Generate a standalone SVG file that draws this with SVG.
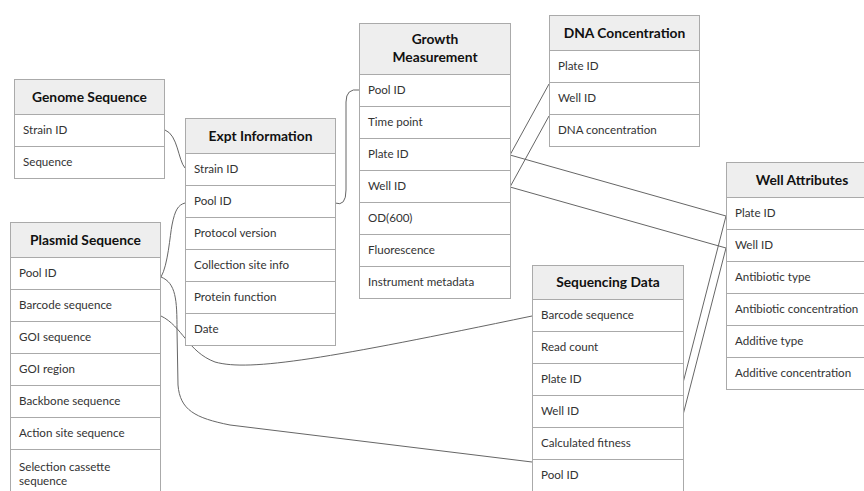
<svg xmlns="http://www.w3.org/2000/svg" width="864" height="491" viewBox="0 0 864 491">
<style>
.box{fill:#fff;stroke:#aaa;stroke-width:1}
.hd{fill:#eeeeee;stroke:#aaa;stroke-width:1}
.sep{stroke:#aaa;stroke-width:1}
.t{font-family:Lato,"Liberation Sans",sans-serif;font-size:11.6px;fill:#333}
.h{font-family:Lato,"Liberation Sans",sans-serif;font-size:13.8px;font-weight:bold;fill:#111;text-anchor:middle}
.c{fill:none;stroke:#666;stroke-width:1}
</style>
<rect width="864" height="491" fill="#fff"/>
<g id="connectors">
<path class="c" d="M165,130 C178,135 178,160 185,168"/>
<path class="c" d="M335,203 Q346,207 346,190 L346,102 Q346,88 359,90"/>
<path class="c" d="M161,277 C168,265 170,235 172,225 C175,210 178,205 185,203"/>
<path class="c" d="M161,277 C176,283 177,300 177,330 L178,385 C180,410 195,418 230,425 L532,462"/>
<path class="c" d="M161,316 C182,326 188,352 215,362 C250,372 330,358 532,316"/>
<path class="c" d="M510,155 L549,84"/>
<path class="c" d="M510,187 L549,116"/>
<path class="c" d="M510,155 L726,216"/>
<path class="c" d="M510,187 L726,248"/>
<path class="c" d="M683,383 L726,216"/>
<path class="c" d="M683,415 L726,248"/>
</g>
<g id="genome-sequence">
<rect class="box" x="14.5" y="79.5" width="150" height="99"/>
<rect class="hd" x="14.5" y="79.5" width="150" height="35"/>
<line class="sep" x1="14.5" y1="146.5" x2="164.5" y2="146.5"/>
<text class="h" x="89.5" y="102">Genome Sequence</text>
<text class="t" x="23" y="134">Strain ID</text>
<text class="t" x="23" y="166">Sequence</text>
</g>
<g id="expt-information">
<rect class="box" x="185.5" y="118.5" width="150" height="227"/>
<rect class="hd" x="185.5" y="118.5" width="150" height="35"/>
<line class="sep" x1="185.5" y1="185.5" x2="335.5" y2="185.5"/>
<line class="sep" x1="185.5" y1="217.5" x2="335.5" y2="217.5"/>
<line class="sep" x1="185.5" y1="249.5" x2="335.5" y2="249.5"/>
<line class="sep" x1="185.5" y1="281.5" x2="335.5" y2="281.5"/>
<line class="sep" x1="185.5" y1="313.5" x2="335.5" y2="313.5"/>
<text class="h" x="260.5" y="141">Expt Information</text>
<text class="t" x="194" y="173">Strain ID</text>
<text class="t" x="194" y="205">Pool ID</text>
<text class="t" x="194" y="237">Protocol version</text>
<text class="t" x="194" y="269">Collection site info</text>
<text class="t" x="194" y="301">Protein function</text>
<text class="t" x="194" y="333">Date</text>
</g>
<g id="plasmid-sequence">
<rect class="box" x="10.5" y="222.5" width="150" height="280"/>
<rect class="hd" x="10.5" y="222.5" width="150" height="35"/>
<line class="sep" x1="10.5" y1="289.5" x2="160.5" y2="289.5"/>
<line class="sep" x1="10.5" y1="321.5" x2="160.5" y2="321.5"/>
<line class="sep" x1="10.5" y1="353.5" x2="160.5" y2="353.5"/>
<line class="sep" x1="10.5" y1="385.5" x2="160.5" y2="385.5"/>
<line class="sep" x1="10.5" y1="417.5" x2="160.5" y2="417.5"/>
<line class="sep" x1="10.5" y1="449.5" x2="160.5" y2="449.5"/>
<text class="h" x="85.5" y="245">Plasmid Sequence</text>
<text class="t" x="19" y="277">Pool ID</text>
<text class="t" x="19" y="309">Barcode sequence</text>
<text class="t" x="19" y="341">GOI sequence</text>
<text class="t" x="19" y="373">GOI region</text>
<text class="t" x="19" y="405">Backbone sequence</text>
<text class="t" x="19" y="437">Action site sequence</text>
<text class="t" x="19" y="471">Selection cassette</text>
<text class="t" x="19" y="485">sequence</text>
</g>
<g id="growth-measurement">
<rect class="box" x="359.5" y="23.5" width="151" height="275"/>
<rect class="hd" x="359.5" y="23.5" width="151" height="51"/>
<line class="sep" x1="359.5" y1="106.5" x2="510.5" y2="106.5"/>
<line class="sep" x1="359.5" y1="138.5" x2="510.5" y2="138.5"/>
<line class="sep" x1="359.5" y1="170.5" x2="510.5" y2="170.5"/>
<line class="sep" x1="359.5" y1="202.5" x2="510.5" y2="202.5"/>
<line class="sep" x1="359.5" y1="234.5" x2="510.5" y2="234.5"/>
<line class="sep" x1="359.5" y1="266.5" x2="510.5" y2="266.5"/>
<text class="h" x="435" y="44">Growth</text>
<text class="h" x="435" y="62">Measurement</text>
<text class="t" x="368" y="94">Pool ID</text>
<text class="t" x="368" y="126">Time point</text>
<text class="t" x="368" y="158">Plate ID</text>
<text class="t" x="368" y="190">Well ID</text>
<text class="t" x="368" y="222">OD(600)</text>
<text class="t" x="368" y="254">Fluorescence</text>
<text class="t" x="368" y="286">Instrument metadata</text>
</g>
<g id="dna-concentration">
<rect class="box" x="549.5" y="15.5" width="150" height="131"/>
<rect class="hd" x="549.5" y="15.5" width="150" height="35"/>
<line class="sep" x1="549.5" y1="82.5" x2="699.5" y2="82.5"/>
<line class="sep" x1="549.5" y1="114.5" x2="699.5" y2="114.5"/>
<text class="h" x="624.5" y="38">DNA Concentration</text>
<text class="t" x="558" y="70">Plate ID</text>
<text class="t" x="558" y="102">Well ID</text>
<text class="t" x="558" y="134">DNA concentration</text>
</g>
<g id="well-attributes">
<rect class="box" x="726.5" y="162.5" width="140" height="227"/>
<rect class="hd" x="726.5" y="162.5" width="140" height="35"/>
<line class="sep" x1="726.5" y1="229.5" x2="866" y2="229.5"/>
<line class="sep" x1="726.5" y1="261.5" x2="866" y2="261.5"/>
<line class="sep" x1="726.5" y1="293.5" x2="866" y2="293.5"/>
<line class="sep" x1="726.5" y1="325.5" x2="866" y2="325.5"/>
<line class="sep" x1="726.5" y1="357.5" x2="866" y2="357.5"/>
<text class="h" x="802" y="185">Well Attributes</text>
<text class="t" x="735" y="217">Plate ID</text>
<text class="t" x="735" y="249">Well ID</text>
<text class="t" x="735" y="281">Antibiotic type</text>
<text class="t" x="735" y="313">Antibiotic concentration</text>
<text class="t" x="735" y="345">Additive type</text>
<text class="t" x="735" y="377">Additive concentration</text>
</g>
<g id="sequencing-data">
<rect class="box" x="532.5" y="265.5" width="151" height="240"/>
<rect class="hd" x="532.5" y="265.5" width="151" height="34"/>
<line class="sep" x1="532.5" y1="331.5" x2="683.5" y2="331.5"/>
<line class="sep" x1="532.5" y1="363.5" x2="683.5" y2="363.5"/>
<line class="sep" x1="532.5" y1="395.5" x2="683.5" y2="395.5"/>
<line class="sep" x1="532.5" y1="427.5" x2="683.5" y2="427.5"/>
<line class="sep" x1="532.5" y1="459.5" x2="683.5" y2="459.5"/>
<text class="h" x="608" y="287">Sequencing Data</text>
<text class="t" x="541" y="319">Barcode sequence</text>
<text class="t" x="541" y="351">Read count</text>
<text class="t" x="541" y="383">Plate ID</text>
<text class="t" x="541" y="415">Well ID</text>
<text class="t" x="541" y="447">Calculated fitness</text>
<text class="t" x="541" y="479">Pool ID</text>
</g>
</svg>
